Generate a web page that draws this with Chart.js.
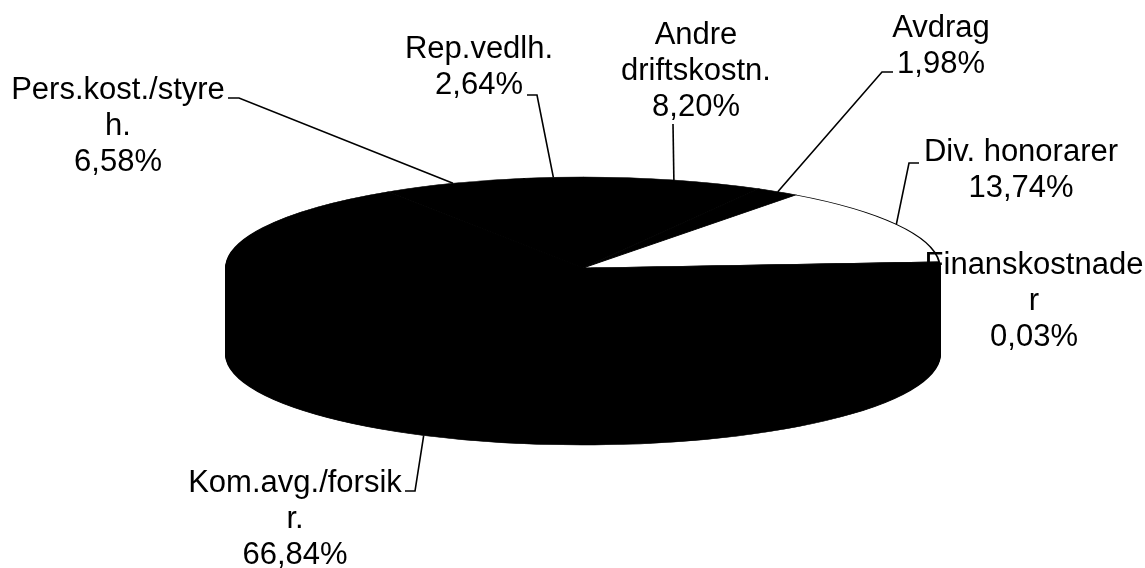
<!DOCTYPE html>
<html>
<head>
<meta charset="utf-8">
<title>Kostnader</title>
<script src="https://cdn.jsdelivr.net/npm/chart.js@4/dist/chart.umd.js"></script>
<style>
  html, body { margin: 0; padding: 0; background: #fff; overflow: hidden; }
  canvas { display: block; }
</style>
</head>
<body>
<canvas id="pie" width="1145" height="568"></canvas>
<script>
// slice order as in the source chart, clockwise
const categories = ['Kom.avg./forsikr.', 'Pers.kost./styreh.', 'Rep.vedlh.', 'Andre driftskostn.', 'Avdrag', 'Div. honorarer', 'Finanskostnader'];
const shares = [66.84, 6.58, 2.64, 8.20, 1.98, 13.74, 0.03];
const sliceColors = ['#000', '#000', '#000', '#000', '#000', '#fff', '#000'];

// how the labels wrap in the picture
const labelLines = [
  ['Kom.avg./forsik', 'r.'],
  ['Pers.kost./styre', 'h.'],
  ['Rep.vedlh.'],
  ['Andre', 'driftskostn.'],
  ['Avdrag'],
  ['Div. honorarer'],
  ['Finanskostnade', 'r']
];
const labelX = [295, 118, 479, 696, 941, 1021, 1034];
const labelY = [483, 90, 49, 35, 28, 152, 265];
// leader line: start and elbow, the far end comes from the slice itself
const leaderStart = [[405, 491], [228, 98], [527, 95], [673, 124], [893, 72], [919, 163], null];
const leaderElbow = [[415, 491], [239, 98], [537, 95], [673, 124], [882, 72], [909, 163], null];

const centerX = 583, centerY = 268, radiusX = 357, radiusY = 91, depth = 86;
const rotation = 86.2;
const lineHeight = 36;
const font = '31px "Liberation Sans", Arial, sans-serif';

const flatten = {
  id: 'flatten',
  beforeDatasetsDraw(chart) {
    const ctx = chart.ctx;
    const arcs = chart.getDatasetMeta(0).data;
    const r = arcs[0].outerRadius;
    const place = (dy) => {
      ctx.translate(centerX, centerY + dy);
      ctx.scale(radiusX / r, radiusY / r);
      ctx.translate(-arcs[0].x, -arcs[0].y);
    };
    // side wall: the big front slice repeated downwards
    for (let d = depth; d > 0; d--) {
      ctx.save();
      place(d);
      arcs[0].draw(ctx);
      ctx.restore();
    }
    ctx.save();
    place(0);
  },
  afterDatasetsDraw(chart) {
    chart.ctx.restore();
  },
  afterDraw(chart) {
    const ctx = chart.ctx;
    const arcs = chart.getDatasetMeta(0).data;
    ctx.save();
    ctx.strokeStyle = '#000';
    ctx.lineWidth = 1.6;
    arcs.forEach((arc, i) => {
      if (!leaderStart[i]) return;
      const mid = (arc.startAngle + arc.endAngle) / 2;
      const x = centerX + radiusX * Math.cos(mid);
      // the only leader that lands on the wall is the front slice
      const y = centerY + radiusY * Math.sin(mid) + (Math.sin(mid) > 0 ? depth : 0);
      ctx.beginPath();
      ctx.moveTo(leaderStart[i][0], leaderStart[i][1]);
      ctx.lineTo(leaderElbow[i][0], leaderElbow[i][1]);
      ctx.lineTo(x, y);
      ctx.stroke();
    });
    ctx.fillStyle = '#000';
    ctx.font = font;
    ctx.textAlign = 'center';
    ctx.textBaseline = 'middle';
    labelLines.forEach((lines, i) => {
      const all = lines.concat(shares[i].toFixed(2).replace('.', ',') + '%');
      all.forEach((line, j) => ctx.fillText(line, labelX[i], labelY[i] + j * lineHeight));
    });
    ctx.restore();
  }
};

new Chart(document.getElementById('pie'), {
  type: 'pie',
  data: {
    labels: categories,
    datasets: [{
      data: shares,
      backgroundColor: sliceColors,
      borderColor: '#000',
      borderWidth: 1.5,
      clip: false
    }]
  },
  options: {
    responsive: false,
    animation: false,
    rotation: rotation,
    plugins: {
      legend: { display: false },
      tooltip: { enabled: false }
    }
  },
  plugins: [flatten]
});
</script>
</body>
</html>
